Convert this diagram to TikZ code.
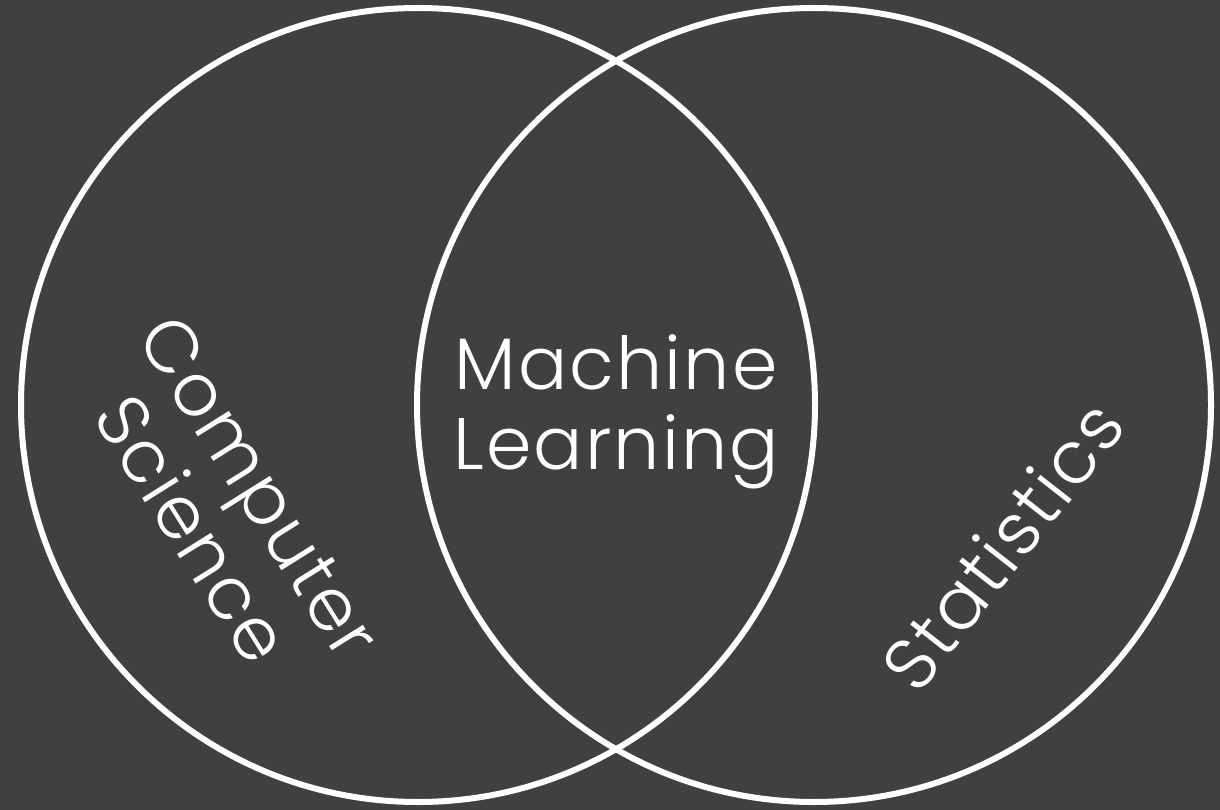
\documentclass[tikz,border=0pt]{standalone}
\usepackage{fontspec}
\setmainfont{Poppins Light}[LetterSpace=3]
\definecolor{slate}{HTML}{404040}
\tikzset{
  ring/.style={circle, draw=white, line width=6pt, minimum size=794pt, inner sep=0pt},
  word/.style={text=white, font=\fontsize{73}{80}\selectfont, align=center, inner sep=0pt}
}
\begin{document}
\begin{tikzpicture}[x=1pt, y=-1pt]
      \fill[slate] (0,0) rectangle (1220,810);
      \useasboundingbox (0,0) rectangle (1220,810);
      \node[ring] (cs) at (418,405) {};
      \node[ring] (st) at (814,405) {};
      \node[word] (ml) at (616,412) {Machine\\Learning};
      \node[word, rotate=-58] (csl) at (226,508) {Computer\\Science};
      \node[word, rotate=52] (stl) at (1002,545) {Statistics};
    \end{tikzpicture}
\end{document}
